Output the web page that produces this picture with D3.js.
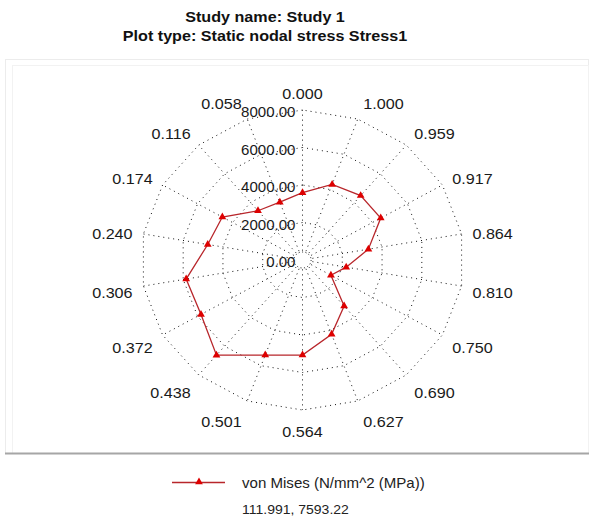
<!DOCTYPE html>
<html>
<head>
<meta charset="utf-8">
<script src="https://cdn.jsdelivr.net/npm/d3@7"></script>
<style>
  html, body { margin: 0; padding: 0; background: #fff; }
  svg { display: block; }
  text { font-family: "Liberation Sans", Arial, sans-serif; fill: #1a1a1a; }
</style>
</head>
<body>
<svg id="chart" width="590" height="529"></svg>
<script>
// ---- data ----
const titleLines = ["Study name: Study 1", "Plot type: Static nodal stress Stress1"];
const angleLabels = ["0.000","0.058","0.116","0.174","0.240","0.306","0.372","0.438","0.501",
                     "0.564","0.627","0.690","0.750","0.810","0.864","0.917","0.959","1.000"];
const vonMises = [3589, 3282, 3430, 4584, 4765, 5850, 5803, 6627, 5395,
                  5067, 4214, 3207, 1625, 2197, 3313, 4473, 4481, 4290];
const radialTicks = [0, 2000, 4000, 6000, 8000];
const radialTickLabels = ["0.00", "2000.00", "4000.00", "6000.00", "8000.00"];
const seriesName = "von Mises (N/mm^2 (MPa))";
const readout = "111.991, 7593.22";

// ---- layout ----
const SX = 1.077;           // horizontal stretch of the reference picture
const cx = 302.5, cy = 260;
const svg = d3.select("#chart");

const rScale = d3.scaleLinear().domain([0, 8000]).range([0, 150]);
const aScale = d3.scaleLinear().domain([0, angleLabels.length]).range([0, -2 * Math.PI]);
const px = (i, v) => cx + rScale(v) * Math.sin(aScale(i)) * SX;
const py = (i, v) => cy - rScale(v) * Math.cos(aScale(i));

function addText(g, x, y, str, opts = {}) {
  return g.append("text")
    .attr("transform", `translate(${x},${y}) scale(${SX},1)`)
    .attr("text-anchor", opts.anchor || "start")
    .attr("dominant-baseline", "central")
    .style("font-size", (opts.size || 15) + "px")
    .style("font-weight", opts.weight || "normal")
    .style("fill", opts.fill || "#1a1a1a")
    .text(str);
}

// panel frame
svg.append("rect").attr("x", 5.5).attr("y", 59.5).attr("width", 583).attr("height", 394)
  .attr("fill", "none").attr("stroke", "#ececec");
svg.append("rect").attr("x", 12.5).attr("y", 65.5).attr("width", 576).attr("height", 388)
  .attr("fill", "none").attr("stroke", "#f2f2f2");
svg.append("line").attr("x1", 5).attr("x2", 589).attr("y1", 453.5).attr("y2", 453.5)
  .attr("stroke", "#a6a6a6").attr("stroke-width", 2);

// title
titleLines.forEach((t, i) => addText(svg, 265, 17 + i * 18.5, t, {anchor: "middle", size: 15, weight: "bold", fill: "#111"}));

const grid = svg.append("g");
const idx = d3.range(angleLabels.length);

// rings (polygons)
radialTicks.filter(v => v > 0).forEach(v => {
  grid.append("path")
    .attr("d", d3.line().x(i => px(i, v)).y(i => py(i, v)).curve(d3.curveLinearClosed)(idx))
    .attr("fill", "none").attr("stroke", "#111").attr("stroke-width", 1)
    .attr("stroke-dasharray", "1,4");
});
// small center ring
grid.append("ellipse").attr("cx", cx).attr("cy", cy).attr("rx", 8 * SX).attr("ry", 8)
  .attr("fill", "none").attr("stroke", "#111").attr("stroke-dasharray", "1,2.5");

// spokes
idx.forEach(i => {
  grid.append("line")
    .attr("x1", px(i, 500)).attr("y1", py(i, 500))
    .attr("x2", px(i, 8000)).attr("y2", py(i, 8000))
    .attr("stroke", "#111").attr("stroke-width", 1).attr("stroke-dasharray", "1,4");
});

// angular labels
const labR = 169.8, labRy = 169, labCy = 263;
angleLabels.forEach((lab, i) => {
  const a = aScale(i), s = Math.sin(a), c = Math.cos(a);
  let anchor = "middle", x = cx + labR * s;
  if (s < -0.01) { anchor = "end"; x -= 2.7; }
  else if (s > 0.01) { anchor = "start"; x += 2.7; }
  addText(svg, x, labCy - labRy * c, lab, {anchor, size: 15});
});

// radial labels
radialTicks.forEach((v, k) => {
  addText(svg, 295.5, cy - rScale(v) + 2.5, radialTickLabels[k], {anchor: "end", size: 14});
});

// series
const lineColor = "#b8262b", markColor = "#dd0000";
svg.append("path")
  .attr("d", d3.line().x((d, i) => px(i, d)).y((d, i) => py(i, d)).curve(d3.curveLinearClosed)(vonMises))
  .attr("fill", "none").attr("stroke", lineColor).attr("stroke-width", 1.3);
const tri = d3.symbol().type(d3.symbolTriangle).size(26);
svg.append("g").selectAll("path").data(vonMises).join("path")
  .attr("d", tri)
  .attr("transform", (d, i) => `translate(${px(i, d)},${py(i, d)})`)
  .attr("fill", markColor);

// legend
svg.append("line").attr("x1", 172).attr("x2", 225).attr("y1", 482.5).attr("y2", 482.5)
  .attr("stroke", lineColor).attr("stroke-width", 1.3);
svg.append("path").attr("d", tri).attr("transform", "translate(199,482)").attr("fill", markColor);
addText(svg, 242, 483, seriesName, {size: 14, fill: "#222"});
addText(svg, 242, 510, readout, {size: 13, fill: "#222"});
</script>
</body>
</html>
